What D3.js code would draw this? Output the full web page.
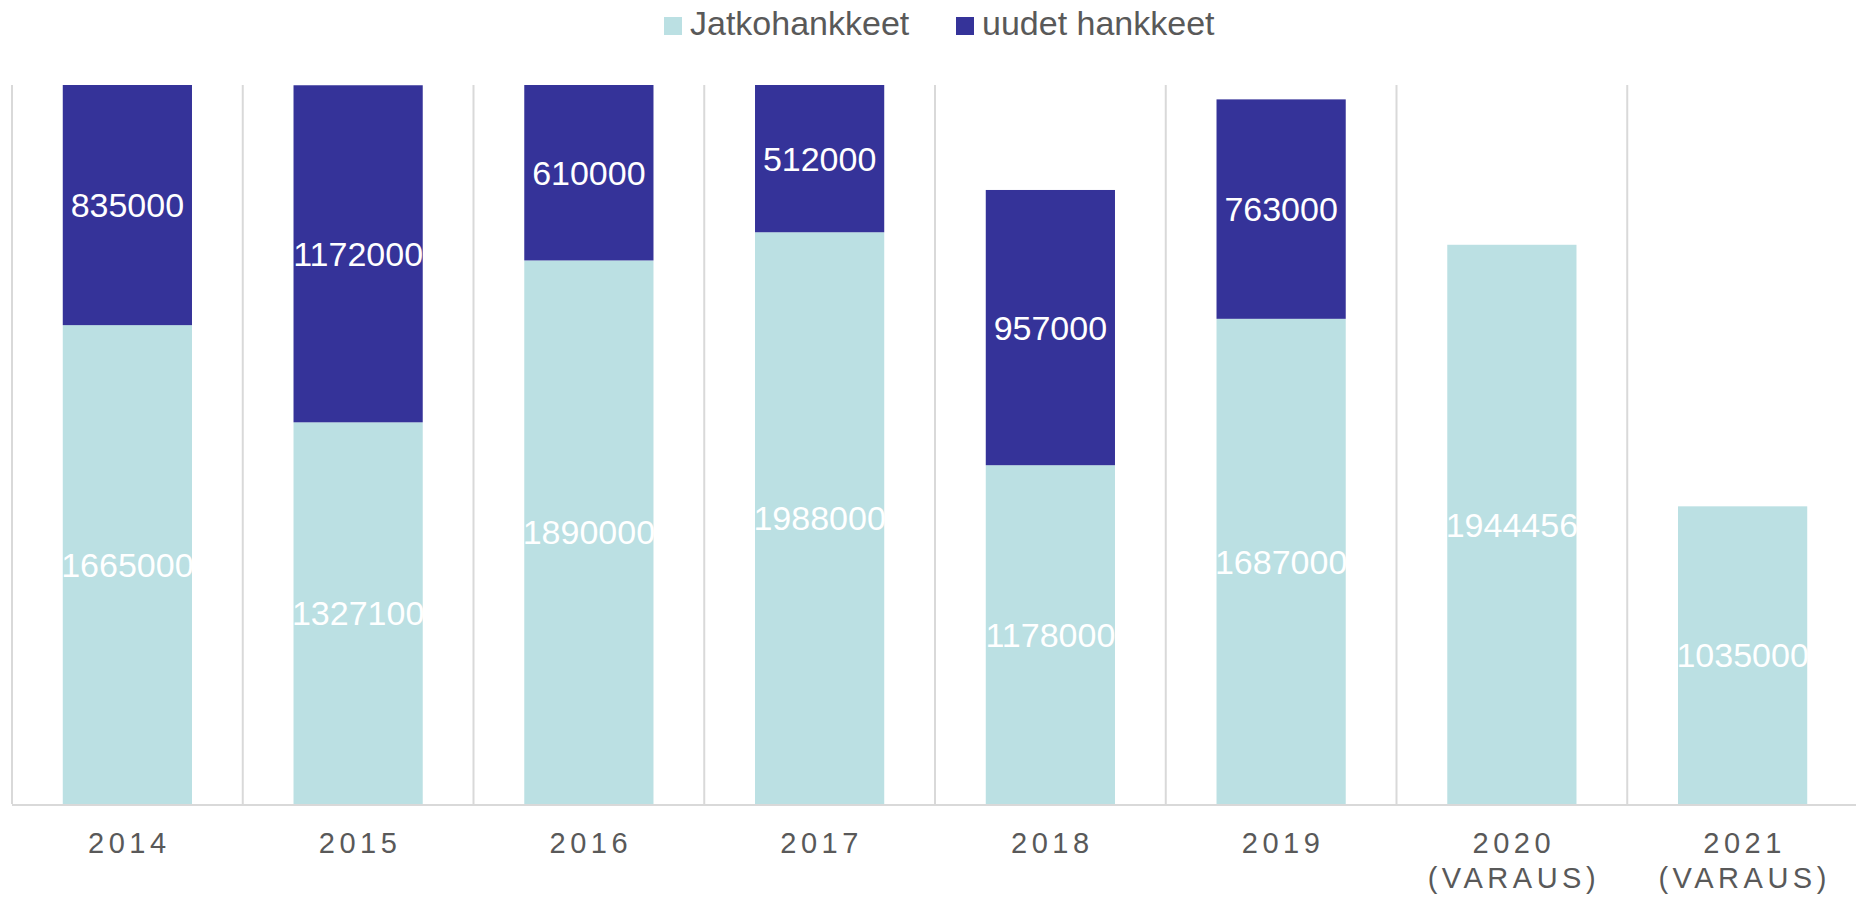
<!DOCTYPE html>
<html>
<head>
<meta charset="utf-8">
<script src="https://cdn.jsdelivr.net/npm/d3@7"></script>
<style>
  body { margin: 0; background: #fff; }
  svg { display: block; font-family: "Liberation Sans", Arial, sans-serif; }
</style>
</head>
<body>
<svg id="chart"></svg>
<script>
const years = ["2014", "2015", "2016", "2017", "2018", "2019", "2020", "2021"];
const yearNotes = ["", "", "", "", "", "", "(VARAUS)", "(VARAUS)"];
const jatko = [1665000, 1327100, 1890000, 1988000, 1178000, 1687000, 1944456, 1035000];
const uudet = [835000, 1172000, 610000, 512000, 957000, 763000, 0, 0];
const seriesNames = ["Jatkohankkeet", "uudet hankkeet"];
const colors = ["#bbe0e3", "#353399"];

const width = 1856, height = 897;
const margin = {top: 85, right: -2, bottom: 92, left: 12};

const svg = d3.select("#chart")
    .attr("width", width)
    .attr("height", height);

const x = d3.scaleBand()
    .domain(years)
    .range([margin.left, width - margin.right])
    .padding(0);

const y = d3.scaleLinear()
    .domain([0, 2500000])
    .range([height - margin.bottom - 1, margin.top]);

const barW = x.bandwidth() * 0.56;

const data = years.map((yr, i) => ({year: yr, note: yearNotes[i], jatko: jatko[i], uudet: uudet[i]}));
const stacked = d3.stack().keys(["jatko", "uudet"])(data);

// vertical separators between categories
svg.append("g")
    .selectAll("line")
    .data(d3.range(years.length + 1))
    .enter().append("line")
        .attr("x1", i => margin.left + i * x.step())
        .attr("x2", i => margin.left + i * x.step())
        .attr("y1", y(2500000))
        .attr("y2", y(0))
        .attr("stroke", "#d9d9d9")
        .attr("stroke-width", 2);

// bars
const layers = svg.append("g")
    .selectAll("g")
    .data(stacked)
    .enter().append("g")
        .attr("fill", (d, i) => colors[i]);

layers.selectAll("rect")
    .data(d => d.filter(p => p[1] - p[0] > 0))
    .enter().append("rect")
        .attr("x", d => x(d.data.year) + (x.bandwidth() - barW) / 2)
        .attr("y", d => y(d[1]))
        .attr("width", barW)
        .attr("height", d => y(d[0]) - y(d[1]));

// value labels
layers.selectAll("text")
    .data(d => d.filter(p => p[1] - p[0] > 0))
    .enter().append("text")
        .attr("x", d => x(d.data.year) + x.bandwidth() / 2)
        .attr("y", d => (y(d[0]) + y(d[1])) / 2)
        .attr("dy", "0.36em")
        .attr("text-anchor", "middle")
        .attr("fill", "#fff")
        .style("font-size", "34px")
        .text(d => d[1] - d[0]);

// baseline
svg.append("line")
    .attr("x1", margin.left)
    .attr("x2", width)
    .attr("y1", y(0) + 1)
    .attr("y2", y(0) + 1)
    .attr("stroke", "#d9d9d9")
    .attr("stroke-width", 2);

// category labels
const xl = svg.append("g")
    .selectAll("text")
    .data(data)
    .enter().append("text")
        .attr("x", d => x(d.year) + x.bandwidth() / 2 + 2)
        .attr("y", 853)
        .attr("text-anchor", "middle")
        .attr("fill", "#595959")
        .style("font-size", "29px")
        .style("letter-spacing", "4.5px");
xl.append("tspan").text(d => d.year);
xl.filter(d => d.note).append("tspan")
    .attr("x", d => x(d.year) + x.bandwidth() / 2 + 2)
    .attr("dy", 35)
    .text(d => d.note);

// legend
const legendX = [664, 956];
const legend = svg.append("g")
    .selectAll("g")
    .data(seriesNames)
    .enter().append("g")
        .attr("transform", (d, i) => `translate(${legendX[i]},0)`);

legend.append("rect")
    .attr("x", 0)
    .attr("y", 17)
    .attr("width", 18)
    .attr("height", 18)
    .attr("fill", (d, i) => colors[i]);

legend.append("text")
    .attr("x", 26)
    .attr("y", 35)
    .attr("fill", "#595959")
    .style("font-size", "34px")
    .text(d => d);
</script>
</body>
</html>
